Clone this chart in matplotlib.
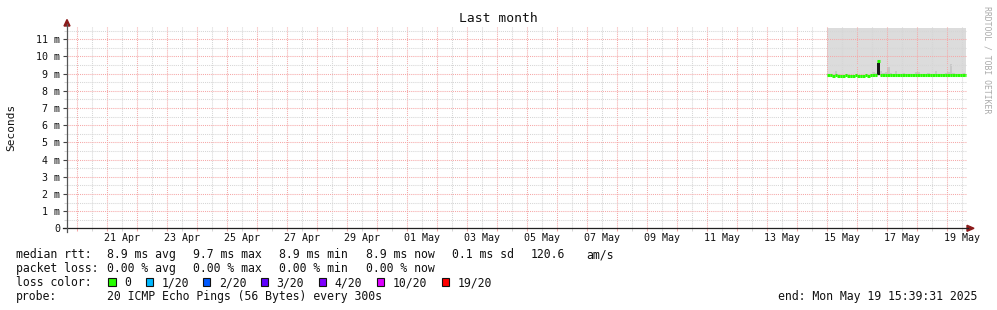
import matplotlib
matplotlib.use("Agg")
import matplotlib.pyplot as plt
import matplotlib.dates as mdates
from matplotlib.patches import Rectangle
from datetime import datetime, timedelta
import numpy as np

# ---------------- data ----------------
title = "Last month"
y_label = "Seconds"
window_start = datetime(2025, 4, 19, 15, 39, 31)
window_end = datetime(2025, 5, 19, 15, 39, 31)
y_max_ms = 11.775

y_tick_ms = [0, 1, 2, 3, 4, 5, 6, 7, 8, 9, 10, 11]
y_tick_labels = ["0", "1 m", "2 m", "3 m", "4 m", "5 m", "6 m", "7 m", "8 m",
                 "9 m", "10 m", "11 m"]
x_tick_labels = ["21 Apr", "23 Apr", "25 Apr", "27 Apr", "29 Apr", "01 May",
                 "03 May", "05 May", "07 May", "09 May", "11 May", "13 May",
                 "15 May", "17 May", "19 May"]

data_start = datetime(2025, 5, 15, 0, 0)
step_hours = 2
# median rtt (ms) per 2-hour slot
median_ms = [8.91, 8.90, 8.89, 8.90, 8.89, 8.88, 8.89, 8.90, 8.89, 8.88,
             8.89, 8.90, 8.89, 8.88, 8.89, 8.90, 8.89, 8.90, 8.91, 8.92,
             9.72, 8.93, 8.93, 8.94, 8.93, 8.94, 8.94, 8.93, 8.94, 8.94,
             8.93, 8.94, 8.94, 8.93, 8.94, 8.94, 8.94, 8.93, 8.94, 8.94,
             8.94, 8.93, 8.94, 8.94, 8.94, 8.93, 8.94, 8.94, 8.94, 8.93,
             8.94, 8.94, 8.93, 8.94, 8.94, 8.94]
# upper dense smoke (ms)
smoke_dense_ms = [8.97, 8.96, 9.00, 9.17, 8.96, 8.95, 8.95, 8.96, 9.00, 8.95,
                  8.95, 8.96, 8.95, 8.95, 8.95, 8.96, 8.95, 8.96, 9.10, 9.05,
                  9.70, 9.15, 9.05, 9.10, 9.40, 9.05, 9.00, 9.17, 9.00, 9.00,
                  9.05, 9.00, 9.00, 9.00, 9.00, 9.10, 9.10, 9.00, 9.00, 9.00,
                  9.05, 9.00, 9.00, 9.17, 9.00, 9.00, 9.00, 9.05, 9.10, 9.56,
                  9.05, 9.00, 9.00, 9.00, 9.05, 9.00]
smoke_low_ms = [8.84, 8.82, 8.82, 8.84, 8.82, 8.81, 8.82, 8.83, 8.82, 8.81,
                8.82, 8.83, 8.82, 8.81, 8.82, 8.83, 8.82, 8.83, 8.84, 8.85,
                8.88, 8.86, 8.87, 8.88, 8.87, 8.88, 8.88, 8.87, 8.88, 8.88,
                8.87, 8.88, 8.88, 8.87, 8.88, 8.88, 8.88, 8.87, 8.88, 8.88,
                8.88, 8.87, 8.88, 8.88, 8.88, 8.87, 8.88, 8.88, 8.88, 8.87,
                8.88, 8.88, 8.87, 8.88, 8.88, 8.88]
smoke_top_ms = 11.66

stats_rtt = ["8.9 ms avg", "9.7 ms max", "8.9 ms min", "8.9 ms now", "0.1 ms sd", "120.6", "am/s"]
stats_loss = ["0.00 % avg", "0.00 % max", "0.00 % min", "0.00 % now"]
loss_labels = ["0", "1/20", "2/20", "3/20", "4/20", "10/20", "19/20"]
loss_colors = ["#26ff00", "#00b8ff", "#0059ff", "#5e00ff", "#7e00ff", "#dd00ff", "#ff0000"]
probe_text = "20 ICMP Echo Pings (56 Bytes) every 300s"
end_text = "end: Mon May 19 15:39:31 2025"
watermark = "RRDTOOL / TOBI OETIKER"

# ---------------- figure ----------------
W, H = 997, 310
fig = plt.figure(figsize=(W / 100, H / 100), dpi=100)
fig.patch.set_facecolor("white")
MONO = "DejaVu Sans Mono"
TXT = "#111111"

def fx(px):
    return px / W

def fy(py):
    return 1 - py / H

ax_l, ax_r, ax_t, ax_b = 67, 967, 26, 228.3
ax = fig.add_axes([fx(ax_l), fy(ax_b), (ax_r - ax_l) / W, (ax_b - ax_t) / H])
ax.set_facecolor("white")

x0 = mdates.date2num(window_start)
x1 = mdates.date2num(window_end)
ax.set_xlim(x0, x1)
ax.set_ylim(0, y_max_ms / 1000)

# data time edges
n = len(median_ms)
edges = [mdates.date2num(data_start + timedelta(hours=step_hours * i)) for i in range(n + 1)]
edges[-1] = min(edges[-1], x1 - 0.03)
edges = np.array(edges)
med = np.array(median_ms) / 1000
dense = np.array(smoke_dense_ms) / 1000
low = np.array(smoke_low_ms) / 1000

# smoke
ax.fill_between(edges, np.r_[low, low[-1]], smoke_top_ms / 1000, step="post",
                color="#dcdcdc", lw=0, zorder=1)
ax.fill_between(edges, np.r_[med, med[-1]], np.r_[dense, dense[-1]], step="post",
                color="#c8c8c8", lw=0, zorder=1.5)
# dark spike where dense pings cluster
spike = int(np.argmax(med))
ax.fill_between(edges[spike:spike + 2], 8.90e-3, 9.64e-3, color="#1a1a1a", lw=0, zorder=3)

# grid
major_c = "#f6a8a8"
minor_c = "#d6d6d6"
ax.xaxis.set_major_locator(mdates.DayLocator())
ax.xaxis.set_minor_locator(mdates.HourLocator(byhour=[12]))
ax.set_yticks([v / 1000 for v in y_tick_ms])
ax.set_yticks([(v + 0.5) / 1000 for v in y_tick_ms], minor=True)
ax.set_yticklabels(y_tick_labels, fontfamily=MONO, fontsize=7.2, color=TXT)
ax.grid(which="major", color=major_c, linestyle=(0, (1, 1)), linewidth=0.75)
ax.grid(which="minor", color=minor_c, linestyle=(0, (1, 1)), linewidth=0.75)
for gl in ax.get_xgridlines() + ax.get_ygridlines():
    gl.set_zorder(2)

# x labels at noon every other day
label_pos = [mdates.date2num(datetime.strptime(s + " 2025", "%d %b %Y") + timedelta(hours=12))
             for s in x_tick_labels]
minor_ticks = ax.xaxis.get_minorticklocs()
ax.set_xticks(minor_ticks, minor=True)
minor_labels = []
for t in minor_ticks:
    lab = ""
    for p, s in zip(label_pos, x_tick_labels):
        if abs(p - t) < 1e-4:
            lab = s
    minor_labels.append(lab)
ax.set_xticklabels(minor_labels, minor=True, fontfamily=MONO, fontsize=7.2, color=TXT)
ax.set_xticklabels([], minor=False)

ax.tick_params(axis="x", which="major", length=2.2, color=major_c, width=0.75, pad=1)
ax.tick_params(axis="x", which="minor", length=2.2, color=minor_c, width=0.75, pad=1.5)
ax.tick_params(axis="y", which="major", length=2.9, color="#444", width=0.8, pad=2.2)
ax.tick_params(axis="y", which="minor", length=2.2, color=minor_c, width=0.75)

# median line: horizontal segments per slot
ax.hlines(med, edges[:-1], edges[1:], color="#26ff00", lw=2.2, zorder=4)

for s in ax.spines.values():
    s.set_visible(False)

# axes lines with arrows (figure pixel coords)
fig.add_artist(plt.Line2D([fx(63), fx(968)], [fy(ax_b), fy(ax_b)], color="#222", lw=0.9,
                          transform=fig.transFigure, clip_on=False))
fig.add_artist(plt.Line2D([fx(ax_l), fx(ax_l)], [fy(232), fy(24)], color="#555", lw=0.9,
                          transform=fig.transFigure, clip_on=False))
arrow_c = "#8b1a1a"
fig.add_artist(plt.Polygon([[fx(967), fy(ax_b - 3)], [fx(967), fy(ax_b + 3)], [fx(974), fy(ax_b)]],
                           closed=True, color=arrow_c, transform=fig.transFigure))
fig.add_artist(plt.Polygon([[fx(ax_l - 3), fy(26)], [fx(ax_l + 3), fy(26)], [fx(ax_l), fy(19.5)]],
                           closed=True, color=arrow_c, transform=fig.transFigure))

# title, y label, watermark
fig.text(fx(498), fy(19), title, fontfamily=MONO, fontsize=9.4, ha="center", va="center", color=TXT)
fig.text(fx(11), fy(127), y_label, fontfamily=MONO, fontsize=8.0, ha="center", va="center",
         rotation=90, color=TXT)
fig.text(fx(987), fy(60), watermark, fontfamily=MONO, fontsize=5.9, ha="center", va="center",
         rotation=-90, color="#aaaaaa")

# legend text (baseline aligned)
fs = 8.3
ly = [258, 272, 286, 300]
kw = dict(fontfamily=MONO, fontsize=fs, va="baseline", color=TXT)
fig.text(fx(16), fy(ly[0]), "median rtt:", **kw)
for x, s in zip([107, 193, 279, 366, 452, 531, 586], stats_rtt):
    fig.text(fx(x), fy(ly[0]), s, **kw)
fig.text(fx(16), fy(ly[1]), "packet loss:", **kw)
for x, s in zip([107, 193, 279, 366], stats_loss):
    fig.text(fx(x), fy(ly[1]), s, **kw)
fig.text(fx(16), fy(ly[2]), "loss color:", **kw)
sq_x = [108.3, 145.7, 203, 261, 319, 377, 442]
for x, s, c in zip(sq_x, loss_labels, loss_colors):
    fig.add_artist(Rectangle((fx(x), fy(285.7)), 7.2 / W, 7.4 / H, facecolor=c,
                             edgecolor="#111", lw=0.8, transform=fig.transFigure))
    fig.text(fx(x + 15.7), fy(ly[2]), s, **kw)
fig.text(fx(16), fy(ly[3]), "probe:", **kw)
fig.text(fx(107), fy(ly[3]), probe_text, **kw)
fig.text(fx(778), fy(ly[3]), end_text, **kw)

fig.savefig("out.png", dpi=100, facecolor="white")
